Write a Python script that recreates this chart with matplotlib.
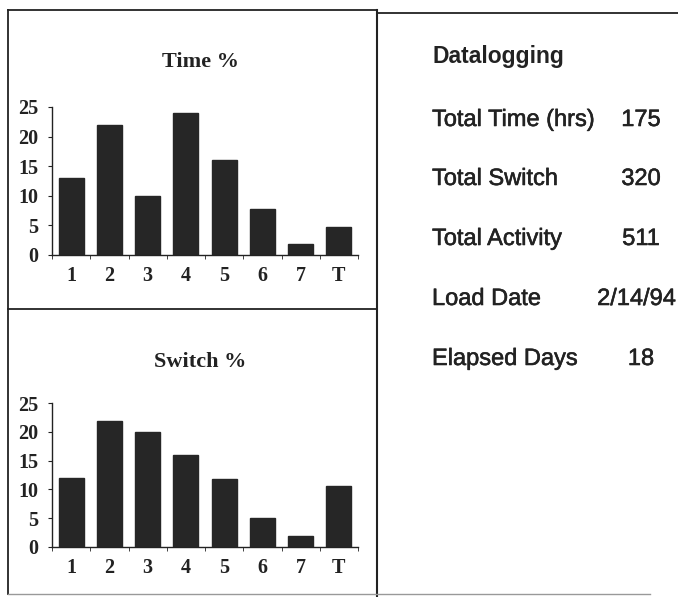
import matplotlib
matplotlib.use("Agg")
import matplotlib.pyplot as plt
import matplotlib.patheffects as pe
from matplotlib.lines import Line2D
import numpy as np

categories = ["1", "2", "3", "4", "5", "6", "7", "T"]
time_pct = [13, 22, 10, 24, 16, 7.8, 1.8, 4.8]
switch_pct = [12, 22, 20, 16, 11.8, 5, 1.9, 10.6]
y_ticks = [0, 5, 10, 15, 20, 25]

info_labels = ["Total Time (hrs)", "Total Switch", "Total Activity", "Load Date", "Elapsed Days"]
info_values = ["175", "320", "511", "2/14/94", "18"]

W, H = 678, 597
INK = "#222222"
BAR = "#262626"
SERIF = ["Liberation Serif", "DejaVu Serif"]
SANS = ["Liberation Sans", "DejaVu Sans"]
# scanned print looks a bit heavier than the plain font
THICK = [pe.withStroke(linewidth=0.4, foreground=INK)]


def fx(px):
    return px / W


def fy(py):
    return 1 - py / H


def bar_panel(fig, rect, values, title, title_y):
    ax = fig.add_axes(rect)
    x = np.arange(len(categories))
    ax.bar(x, values, width=0.65, color=BAR, edgecolor=BAR)
    ax.set_xlim(-0.5, len(categories) - 0.5)
    ax.set_ylim(0, 25)
    ax.set_yticks(y_ticks)
    ax.set_xticks(x)
    ax.set_xticklabels(categories)
    ax.set_xticks(np.arange(len(categories) + 1) - 0.5, minor=True)
    for s in ["top", "right"]:
        ax.spines[s].set_visible(False)
    for s in ["left", "bottom"]:
        ax.spines[s].set_color(INK)
        ax.spines[s].set_linewidth(1.0)
    ax.tick_params(axis="x", which="major", length=0, pad=8)
    ax.tick_params(axis="x", which="minor", length=3, color=INK)
    ax.tick_params(axis="y", length=3, pad=7, color=INK)
    for lab in ax.get_xticklabels() + ax.get_yticklabels():
        lab.set_family(SERIF)
        lab.set_fontweight("bold")
        lab.set_fontsize(14.5)
        lab.set_color(INK)
    fig.text(fx(200), fy(title_y), title, ha="center", va="center",
             family=SERIF, fontweight="bold", fontsize=16, color=INK)
    return ax


fig = plt.figure(figsize=(W / 100, H / 100), dpi=100)
fig.patch.set_facecolor("white")

bar_panel(fig, [fx(52), fy(255), fx(306), 148 / H], time_pct, "Time %", 62)
bar_panel(fig, [fx(52), fy(546.7), fx(306), 143.4 / H], switch_pct, "Switch %", 362)

# panel frames
frame = [
    ((8, 377), (10, 10), INK, 1.3),
    ((377, 678), (13, 13), INK, 1.3),
    ((8, 8), (10, 594), INK, 1.3),
    ((377, 377), (10, 597), INK, 1.5),
    ((8, 377), (309, 309), INK, 1.3),
    ((8, 650), (594, 594), "#999999", 1.0),
]
for xs, ys, c, lw in frame:
    fig.add_artist(Line2D([fx(v) for v in xs], [fy(v) for v in ys],
                          color=c, linewidth=lw))

# datalogging summary
fig.text(fx(432), fy(63), "Datalogging", ha="left", va="baseline",
         family=SANS, fontweight="bold", fontsize=16.5, color=INK)
baselines = [126, 185, 245, 305, 365]
for lab, val, b in zip(info_labels, info_values, baselines):
    fig.text(fx(432), fy(b), lab, ha="left", va="baseline",
             family=SANS, fontsize=17, color=INK, path_effects=THICK)
    if "/" in val:
        # the date runs up to the right edge
        fig.text(fx(676), fy(b), val, ha="right", va="baseline",
                 family=SANS, fontsize=17, color=INK, path_effects=THICK)
    else:
        fig.text(fx(641), fy(b), val, ha="center", va="baseline",
                 family=SANS, fontsize=17, color=INK, path_effects=THICK)

fig.savefig("out.png", dpi=100)
